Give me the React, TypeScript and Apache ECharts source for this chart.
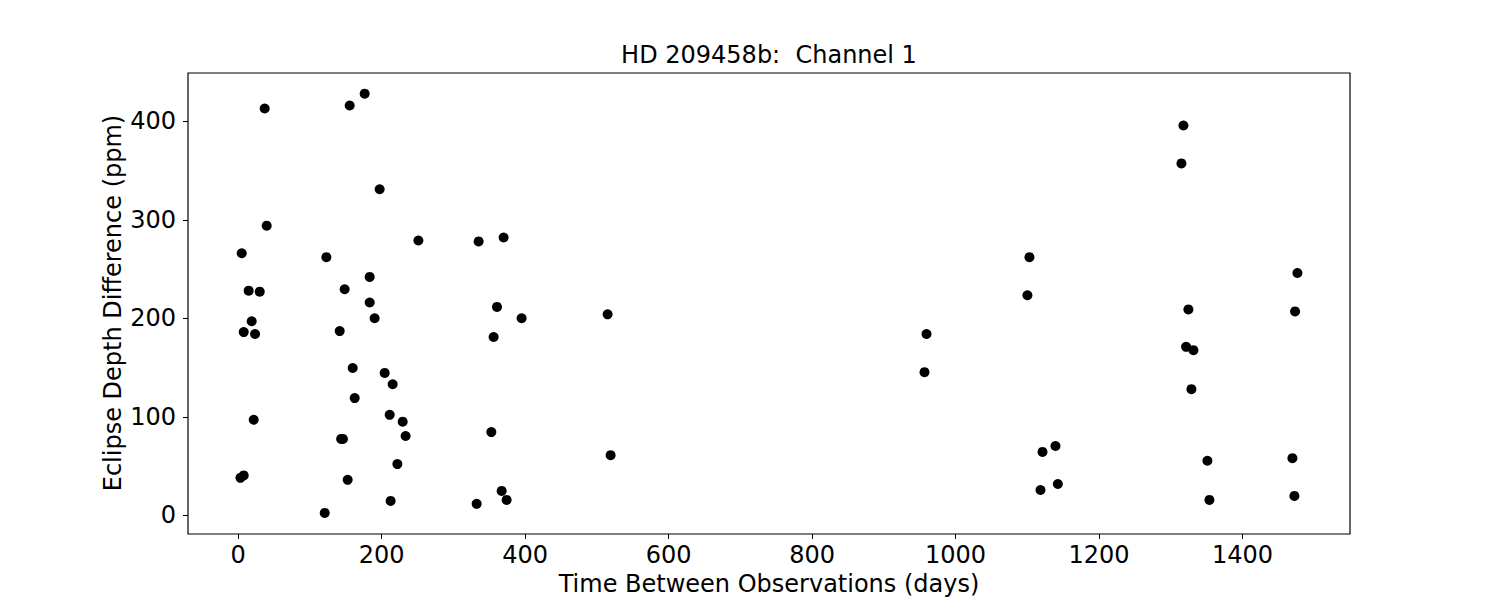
import React, { useEffect, useRef } from "react";
import * as echarts from "echarts";

const timeDays = [
  36.9, 155.4, 176.3, 197.2, 39.7, 4.9, 251.2, 335.2, 122.9, 183.3,
  14.6, 30.0, 148.4, 183.3, 190.2, 18.8, 7.7, 23.5, 141.5, 159.6,
  204.2, 215.3, 162.4, 211.2, 229.3, 233.4, 21.6, 143.5, 146.0, 221.9,
  3.1, 7.7, 152.6, 212.5, 120.6, 332.4, 360.8, 395.1, 356.1, 352.9,
  367.3, 374.2, 370.0, 515.0, 519.2, 956.8, 959.6, 1103.1, 1100.3, 1139.4,
  1121.3, 1142.7, 1118.5, 1324.7, 1321.5, 1331.7, 1328.9, 1351.2, 1354.0, 1476.7,
  1473.4, 1469.7, 1472.5, 1317.8, 1315.0,
];

const depthDiffPpm = [
  413, 416, 428, 331, 294, 266, 279, 278, 262, 242,
  228, 227, 229.5, 216, 200, 197, 186, 184, 187, 149.5,
  144.5, 133, 119, 102, 95, 80.5, 97, 77.5, 77.5, 52,
  38, 40.5, 36, 14.6, 2.4, 11.6, 211.5, 200, 181, 84.5,
  24.7, 15.6, 282, 204, 61, 145.3, 184, 262, 223.4, 70.3,
  64.3, 31.8, 25.7, 209, 171, 167.6, 128, 55.4, 15.6, 246,
  207, 58, 19.7, 395.7, 357.2,
];

const xTicks = [0, 200, 400, 600, 800, 1000, 1200, 1400];
const yTicks = [0, 100, 200, 300, 400];

const titleText = "HD 209458b:  Channel 1";
const xLabelText = "Time Between Observations (days)";
const yLabelText = "Eclipse Depth Difference (ppm)";

export default function App() {
  const ref = useRef<HTMLDivElement>(null);

  useEffect(() => {
    if (!ref.current) return;
    const chart = echarts.init(ref.current, null, { renderer: "svg" });
    const font = "DejaVu Sans";
    const points = timeDays.map((d, i) => [d, depthDiffPpm[i]]);

    chart.setOption({
      animation: false,
      backgroundColor: "#ffffff",
      grid: {
        left: 188,
        right: 150,
        top: 73,
        bottom: 66,
        show: true,
        borderColor: "#000000",
        borderWidth: 1.2,
        backgroundColor: "transparent",
        containLabel: false,
        outerBoundsMode: "none",
      },
      xAxis: {
        type: "value",
        min: -70,
        max: 1550,
        splitLine: { show: false },
        axisLine: { show: false, onZero: false },
        axisTick: {
          show: true,
          inside: false,
          length: 5,
          lineStyle: { color: "#000000", width: 1 },
          customValues: xTicks,
        },
        axisLabel: {
          customValues: xTicks,
          formatter: (v: number) => String(v),
          color: "#000000",
          fontSize: 24,
          fontFamily: font,
          margin: 9,
        },
      },
      yAxis: {
        type: "value",
        min: -19,
        max: 449,
        splitLine: { show: false },
        axisLine: { show: false, onZero: false },
        axisTick: {
          show: true,
          inside: false,
          length: 5,
          lineStyle: { color: "#000000", width: 1 },
          customValues: yTicks,
        },
        axisLabel: {
          customValues: yTicks,
          formatter: (v: number) => String(v),
          color: "#000000",
          fontSize: 24,
          fontFamily: font,
          margin: 12,
        },
      },
      graphic: [
        {
          type: "text",
          x: 769,
          y: 55,
          style: {
            text: titleText,
            fill: "#000000",
            fontSize: 24,
            fontFamily: font,
            align: "center",
            verticalAlign: "middle",
          },
        },
        {
          type: "text",
          x: 769,
          y: 584,
          style: {
            text: xLabelText,
            fill: "#000000",
            fontSize: 24,
            fontFamily: font,
            align: "center",
            verticalAlign: "middle",
          },
        },
        {
          type: "text",
          x: 113,
          y: 303,
          rotation: Math.PI / 2,
          style: {
            text: yLabelText,
            fill: "#000000",
            fontSize: 24,
            fontFamily: font,
            align: "center",
            verticalAlign: "middle",
          },
        },
      ],
      series: [
        {
          type: "scatter",
          data: points,
          symbol: "circle",
          symbolSize: 10,
          itemStyle: { color: "#000000", opacity: 1 },
        },
      ],
    });

    return () => {
      chart.dispose();
    };
  }, []);

  return (
    <div
      ref={ref}
      style={{ position: "fixed", left: 0, top: 0, width: 1500, height: 600 }}
    />
  );
}
